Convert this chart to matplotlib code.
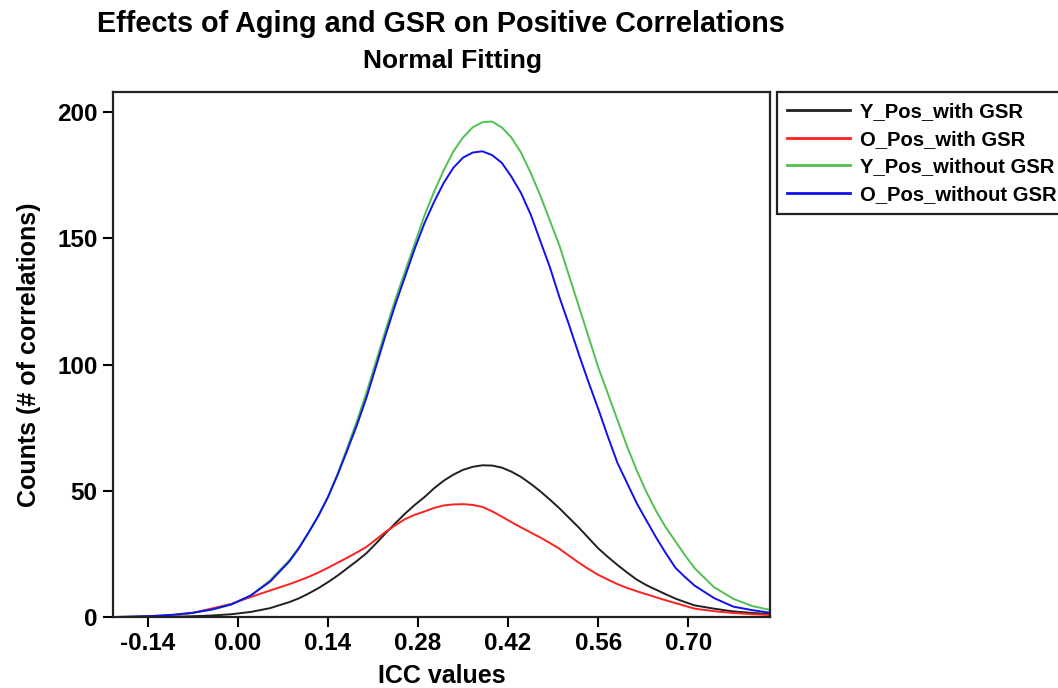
import matplotlib
matplotlib.use("Agg")
import matplotlib.pyplot as plt

plt.rcParams['font.family'] = ['Liberation Sans', 'DejaVu Sans']
plt.rcParams['font.weight'] = 'bold'

# ICC grid (x) and fitted counts
icc = [-0.19, -0.16, -0.13, -0.10, -0.07, -0.04, -0.01, 0.02, 0.05,
       0.08, 0.095, 0.11, 0.125, 0.14, 0.155, 0.17, 0.185, 0.20, 0.215,
       0.23, 0.245, 0.26, 0.275, 0.29, 0.305, 0.32, 0.335, 0.35, 0.365,
       0.38, 0.395, 0.41, 0.425, 0.44, 0.455, 0.47, 0.485, 0.50, 0.515,
       0.53, 0.545, 0.56, 0.575, 0.59, 0.605, 0.62, 0.635, 0.65, 0.665,
       0.68, 0.695, 0.71, 0.74, 0.77, 0.80, 0.827]

y_pos_gsr = [0, 0, 0.05, 0.1, 0.3, 0.6, 1.1, 2.0, 3.5,
             5.9, 7.4, 9.3, 11.4, 13.8, 16.4, 19.3, 22.2, 25.3, 29.2,
             33.3, 37.2, 41, 44.4, 47.5, 51, 54.0, 56.4, 58.3, 59.5,
             60.1, 60.0, 59.2, 57.6, 55.5, 52.8, 49.8, 46.5, 43, 39.2,
             35.4, 31.3, 27.2, 23.8, 20.6, 17.6, 14.8, 12.6, 10.8, 9.0,
             7.3, 5.9, 4.6, 3.3, 2.2, 1.6, 1.2]
o_pos_gsr = [0, 0, 0.2, 0.6, 1.6, 3.4, 5.2, 7.9, 10.5,
             13.0, 14.4, 15.9, 17.6, 19.5, 21.5, 23.5, 25.6, 27.8, 30.8,
             33.8, 36.4, 38.8, 40.5, 41.8, 43.2, 44.2, 44.6, 44.7, 44.4,
             43.6, 41.9, 39.8, 37.6, 35.5, 33.5, 31.5, 29.3, 27.0, 24.2,
             21.5, 19.0, 16.7, 14.8, 13.0, 11.5, 10.2, 9.0, 7.8, 6.6,
             5.5, 4.4, 3.3, 2.3, 1.6, 1.1, 0.8]
y_pos_nogsr = [0, 0.2, 0.4, 0.8, 1.6, 2.9, 5.0, 8.5, 14.5,
               22.5, 27.5, 33.5, 40, 47.5, 56.7, 67, 77.6, 89, 101.5,
               114, 126, 137, 148, 159, 168.5, 177, 184.5, 190, 194,
               196, 196.3, 194, 190, 184, 176, 167, 157, 147, 135,
               123, 111, 99, 88.5, 78, 67.5, 58, 49.5, 42, 35.5,
               30, 24.4, 19.3, 11.8, 7.2, 4.3, 2.8]
o_pos_nogsr = [0, 0.2, 0.45, 0.9, 1.7, 3.0, 5.0, 8.5, 14,
               22, 27.3, 33.5, 40, 47.5, 56.3, 66, 76, 87, 99.5,
               112, 124, 135, 146, 156, 164.5, 172, 178, 182, 184,
               184.5, 183, 180, 174.5, 168, 159.5, 149, 138.5, 126.5, 115.5,
               104, 93, 82.5, 71.5, 61, 53, 45, 38.2, 31.5, 25.3,
               19.5, 15.8, 12.4, 7.5, 4.1, 2.7, 1.7]

xticks = [-0.14, 0.00, 0.14, 0.28, 0.42, 0.56, 0.70]
yticks = [0, 50, 100, 150, 200]

fig = plt.figure(figsize=(10.58, 6.88), dpi=100)
ax = fig.add_axes([0.1068, 0.1032, 0.621, 0.7631])

ax.plot(icc, y_pos_gsr, color='#202020', lw=1.4, label='Y_Pos_with GSR')
ax.plot(icc, o_pos_gsr, color='#ff2020', lw=1.4, label='O_Pos_with GSR')
ax.plot(icc, y_pos_nogsr, color='#50c050', lw=1.4, label='Y_Pos_without GSR')
ax.plot(icc, o_pos_nogsr, color='#1010f0', lw=1.4, label='O_Pos_without GSR')

ax.set_xlim(-0.194, 0.827)
ax.set_ylim(0, 208)
ax.set_xticks(xticks)
ax.set_xticklabels(['%.2f' % t for t in xticks])
ax.set_yticks(yticks)
ax.tick_params(direction='out', length=7, width=1.5, labelsize=17.5, pad=4)
for s in ax.spines.values():
    s.set_linewidth(1.6)
    s.set_color('#222222')

ax.set_xlabel('ICC values', fontsize=18, fontweight='bold', labelpad=6)
ax.set_ylabel('Counts (# of correlations)', fontsize=18, fontweight='bold', labelpad=12)

fig.text(0.4168, 0.9535, 'Effects of Aging and GSR on Positive Correlations',
         ha='center', va='baseline', fontsize=20.7, fontweight='bold')
fig.text(0.428, 0.901, 'Normal Fitting', ha='center', va='baseline',
         fontsize=19, fontweight='bold')

leg = fig.legend(loc='upper left', bbox_to_anchor=(0.7344, 0.8663), borderaxespad=0,
                 fontsize=14.6, handlelength=3.1, handletextpad=0.5, borderpad=0.5,
                 labelspacing=0.42, fancybox=False, framealpha=1)
leg.get_frame().set_edgecolor('#222222')
leg.get_frame().set_linewidth(1.6)
for line in leg.get_lines():
    line.set_linewidth(2)

fig.savefig('out.png', dpi=100)
